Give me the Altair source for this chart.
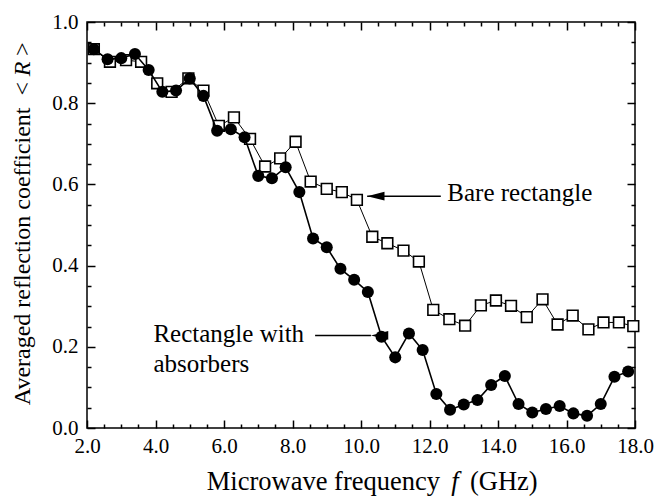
import altair as alt
import pandas as pd

# ---------------- data ----------------
bare_f = [2.2, 2.67, 3.14, 3.58, 4.05, 4.47, 4.96, 5.40, 5.85, 6.29, 6.76, 7.20,
          7.64, 8.09, 8.53, 9.00, 9.44, 9.88, 10.33, 10.77, 11.24, 11.69, 12.11,
          12.58, 13.04, 13.50, 13.94, 14.38, 14.84, 15.30, 15.74, 16.18, 16.64,
          17.08, 17.53, 17.95]
bare_r = [0.933, 0.902, 0.906, 0.902, 0.849, 0.828, 0.861, 0.831, 0.744, 0.765,
          0.712, 0.644, 0.664, 0.705, 0.607, 0.589, 0.581, 0.562, 0.471, 0.455,
          0.437, 0.410, 0.291, 0.268, 0.252, 0.302, 0.314, 0.301, 0.273, 0.317,
          0.255, 0.277, 0.243, 0.260, 0.260, 0.251]

abs_f = [2.2, 2.6, 3.0, 3.4, 3.8, 4.2, 4.6, 5.0, 5.4, 5.8, 6.2, 6.6, 7.0, 7.4,
         7.8, 8.2, 8.6, 9.0, 9.4, 9.8, 10.2, 10.6, 11.0, 11.4, 11.8, 12.2, 12.6,
         13.0, 13.4, 13.8, 14.2, 14.6, 15.0, 15.4, 15.8, 16.2, 16.6, 17.0, 17.4, 17.8]
abs_r = [0.933, 0.908, 0.911, 0.921, 0.882, 0.828, 0.831, 0.861, 0.818, 0.732,
         0.736, 0.716, 0.621, 0.615, 0.642, 0.581, 0.467, 0.445, 0.392, 0.365,
         0.335, 0.225, 0.174, 0.233, 0.192, 0.084, 0.045, 0.058, 0.069, 0.106,
         0.128, 0.059, 0.038, 0.047, 0.054, 0.036, 0.030, 0.059, 0.126, 0.139]

x_labels = [2, 4, 6, 8, 10, 12, 14, 16, 18]
x_ticks = [2 + 0.5 * k for k in range(33)]
y_labels = [0.0, 0.2, 0.4, 0.6, 0.8, 1.0]
y_ticks = [round(0.05 * k, 2) for k in range(21)]

ann_text = ["Bare rectangle", "Rectangle with", "absorbers"]
ann_f = [12.52, 3.94, 3.94]
ann_r = [0.560, 0.211, 0.139]

arrow_f_start = [12.33, 8.66]
arrow_f_tip = [10.18, 10.29]
arrow_r = [0.571, 0.228]

x_title_parts = ["Microwave frequency", "f", "(GHz)"]
y_title_parts = ["Averaged reflection coefficient\u00a0 <", "R", ">"]

# ---------------- chart ----------------
FONT = "'Liberation Serif', 'Times New Roman', Times, 'DejaVu Serif', serif"
W, H = 548, 406

bare = pd.DataFrame({"f": bare_f, "R": bare_r})
absb = pd.DataFrame({"f": abs_f, "R": abs_r})
ann = pd.DataFrame({"f": ann_f, "R": ann_r, "t": ann_text})
arr = pd.DataFrame({"f": arrow_f_start, "f2": arrow_f_tip, "R": arrow_r})

xs = alt.Scale(domain=[2, 18], nice=False, zero=False)
ys = alt.Scale(domain=[0, 1], nice=False, zero=False)

x_major_test = "abs(datum.value % 2) < 0.001"
y_major_test = "abs(datum.value * 5 - round(datum.value * 5)) < 0.001"


def tick_axis(orient, offset, values, test):
    return alt.Axis(orient=orient, offset=offset, values=values, labels=False,
                    domain=False, grid=False, ticks=True, tickColor="black",
                    tickWidth=1.5,
                    tickSize={"condition": {"test": test, "value": 8}, "value": 4},
                    title=None)


label_x_axis = alt.Axis(orient="bottom", values=x_labels, format=".1f", ticks=False,
                        tickSize=0, labelPadding=7, labelFont=FONT, labelFontSize=21,
                        labelColor="black", domain=False, grid=False, title=None,
                        labelFlush=False)
label_y_axis = alt.Axis(orient="left", values=y_labels, format=".1f", ticks=False,
                        tickSize=0, labelPadding=9, labelFont=FONT, labelFontSize=21,
                        labelColor="black", domain=False, grid=False, title=None,
                        labelFlush=False)

bare_line = alt.Chart(bare).mark_line(color="black", strokeWidth=1).encode(
    x=alt.X("f:Q", scale=xs, axis=label_x_axis),
    y=alt.Y("R:Q", scale=ys, axis=label_y_axis),
)

bare_pts = alt.Chart(bare).mark_point(shape="square", size=115, filled=True,
                                      fill="white", stroke="black",
                                      strokeWidth=1.6, opacity=1).encode(
    x=alt.X("f:Q", scale=xs, axis=tick_axis("top", -H, x_ticks, x_major_test)),
    y=alt.Y("R:Q", scale=ys, axis=tick_axis("right", -W, y_ticks, y_major_test)),
)

abs_line = alt.Chart(absb).mark_line(color="black", strokeWidth=1.6).encode(
    x=alt.X("f:Q", scale=xs, axis=tick_axis("bottom", -H, x_ticks, x_major_test)),
    y=alt.Y("R:Q", scale=ys, axis=tick_axis("left", -W, y_ticks, y_major_test)),
)

abs_pts = alt.Chart(absb).mark_circle(size=145, color="black", opacity=1).encode(
    x=alt.X("f:Q", scale=xs, axis=None),
    y=alt.Y("R:Q", scale=ys, axis=None),
)

arrow_lines = alt.Chart(arr).mark_rule(color="black", strokeWidth=1.5).encode(
    x=alt.X("f:Q", scale=xs, axis=None),
    x2="f2:Q",
    y=alt.Y("R:Q", scale=ys, axis=None),
)

arrow_heads = alt.Chart(arr).mark_point(shape="M 0 0 L 2 -0.5 L 2 0.5 Z", size=300,
                                        filled=True, color="black", opacity=1).encode(
    x=alt.X("f2:Q", scale=xs, axis=None),
    y=alt.Y("R:Q", scale=ys, axis=None),
)

ann_text_layer = alt.Chart(ann).mark_text(font=FONT, fontSize=25, color="black",
                                          align="left", baseline="alphabetic").encode(
    x=alt.X("f:Q", scale=xs, axis=None),
    y=alt.Y("R:Q", scale=ys, axis=None),
    text="t:N",
)

one = pd.DataFrame({"a": [0]})


def title_piece(txt, x, y, align, size, italic=False, angle=0):
    kw = dict(font=FONT, fontSize=size, color="black", align=align,
              baseline="alphabetic", text=txt)
    if italic:
        kw["fontStyle"] = "italic"
    if angle:
        kw["angle"] = angle
    return alt.Chart(one).mark_text(**kw).encode(x=alt.value(x), y=alt.value(y))


xt1 = title_piece(x_title_parts[0], 353, 468, "right", 26.5)
xt2 = title_piece(x_title_parts[1], 368, 468, "center", 26.5, italic=True)
xt3 = title_piece(x_title_parts[2], 383, 468, "left", 26.5)

yt1 = title_piece(y_title_parts[0], -57, 60, "right", 24, angle=270)
yt2 = title_piece(y_title_parts[1], -57, 47, "center", 24, italic=True, angle=270)
yt3 = title_piece(y_title_parts[2], -57, 34, "left", 24, angle=270)

chart = alt.layer(
    bare_line, bare_pts, abs_line, abs_pts, arrow_lines, arrow_heads,
    ann_text_layer, xt1, xt2, xt3, yt1, yt2, yt3,
).resolve_axis(x="independent", y="independent").properties(
    width=W, height=H,
    padding={"left": 87, "top": 22, "right": 20, "bottom": 70},
    autosize=alt.AutoSizeParams(type="none"),
    background="white",
).configure_view(stroke="black", strokeWidth=1.5)

chart.save("out.html", embed_options={"renderer": "svg", "actions": False})
